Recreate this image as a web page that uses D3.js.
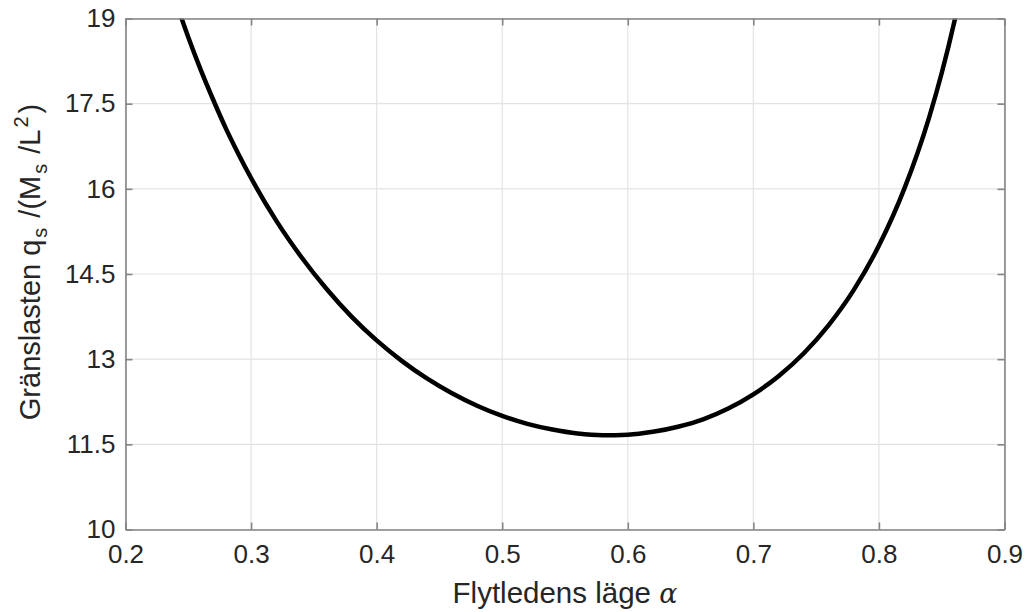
<!DOCTYPE html>
<html><head><meta charset="utf-8">
<script src="https://cdn.jsdelivr.net/npm/d3@7"></script>
<style>body{margin:0;background:#fff;} svg{display:block;}</style>
</head><body>
<script>
// Data
const alpha = [0.24,0.25,0.26,0.27,0.28,0.29,0.30,0.32,0.34,0.36,0.38,0.40,0.42,0.44,0.46,0.48,0.50,0.52,0.54,0.56,0.58,0.60,0.62,0.64,0.66,0.68,0.70,0.72,0.74,0.76,0.78,0.80,0.82,0.84,0.85,0.86,0.87];
const load  = [19.30,18.67,18.09,17.56,17.06,16.61,16.19,15.44,14.80,14.24,13.75,13.33,12.97,12.66,12.40,12.18,12.00,11.86,11.76,11.69,11.66,11.67,11.72,11.81,11.94,12.13,12.38,12.70,13.10,13.60,14.22,15.00,15.99,17.26,18.04,18.94,19.98];
const xTicks = [0.2,0.3,0.4,0.5,0.6,0.7,0.8,0.9];
const yTicks = [10,11.5,13,14.5,16,17.5,19];
const xTickLabels = ["0.2","0.3","0.4","0.5","0.6","0.7","0.8","0.9"];
const yTickLabels = ["10","11.5","13","14.5","16","17.5","19"];

(function(){
const W=1026,H=612;
const m={l:125.5,r:1004.5,t:18.5,b:529.5};
const svg=d3.select("body").append("svg").attr("width",W).attr("height",H);
const x=d3.scaleLinear().domain([0.2,0.9]).range([m.l,m.r]);
const y=d3.scaleLinear().domain([10,19]).range([m.b,m.t]);
const font="'Liberation Sans', Arial, Helvetica, sans-serif";
const axisCol="#848484", textCol="#262626", gridCol="#e3e3e3";

// grid
const g=svg.append("g");
g.selectAll(".gx").data(xTicks).join("line")
 .attr("x1",d=>x(d)).attr("x2",d=>x(d)).attr("y1",m.t).attr("y2",m.b)
 .attr("stroke",gridCol).attr("stroke-width",1.2);
g.selectAll(".gy").data(yTicks).join("line")
 .attr("y1",d=>y(d)).attr("y2",d=>y(d)).attr("x1",m.l).attr("x2",m.r)
 .attr("stroke",gridCol).attr("stroke-width",1.2);

// curve
svg.append("clipPath").attr("id","clip").append("rect")
 .attr("x",m.l).attr("y",m.t).attr("width",m.r-m.l).attr("height",m.b-m.t);
const pts=alpha.map((a,i)=>[a,load[i]]);
svg.append("path").datum(pts).attr("clip-path","url(#clip)")
 .attr("d",d3.line().x(d=>x(d[0])).y(d=>y(d[1])).curve(d3.curveMonotoneX))
 .attr("fill","none").attr("stroke","#000").attr("stroke-width",4.5);

// axes (box with inward ticks)
const ax=svg.append("g");
const axB=d3.axisBottom(x).tickValues(xTicks).tickFormat((d,i)=>xTickLabels[i]).tickSizeInner(-7).tickSizeOuter(0).tickPadding(15);
const axL=d3.axisLeft(y).tickValues(yTicks).tickFormat((d,i)=>yTickLabels[i]).tickSizeInner(-7).tickSizeOuter(0).tickPadding(10);
const axT=d3.axisTop(x).tickValues(xTicks).tickFormat("").tickSizeInner(-7).tickSizeOuter(0);
const axR=d3.axisRight(y).tickValues(yTicks).tickFormat("").tickSizeInner(-7).tickSizeOuter(0);
function style(sel){
  sel.selectAll("path").attr("stroke",axisCol).attr("stroke-width",1.6);
  sel.selectAll("line").attr("stroke",axisCol).attr("stroke-width",1.6);
  sel.selectAll("text").attr("fill",textCol).style("font-family",font).style("font-size","26px");
}
ax.append("g").attr("transform",`translate(0,${m.b})`).call(axB).call(style);
ax.append("g").attr("transform",`translate(${m.l},0)`).call(axL).call(style);
ax.append("g").attr("transform",`translate(0,${m.t})`).call(axT).call(style);
ax.append("g").attr("transform",`translate(${m.r},0)`).call(axR).call(style);

// x label
const xl=svg.append("text").attr("x",(m.l+m.r)/2).attr("y",603).attr("text-anchor","middle")
 .attr("fill",textCol).style("font-family",font).style("font-size","29.5px");
xl.append("tspan").text("Flytledens läge ");
xl.append("tspan").text("α").style("font-family","'DejaVu Serif', 'Liberation Serif', serif").style("font-style","italic").style("font-size","27px");

// y label
const yl=svg.append("text").attr("transform",`translate(40,262) rotate(-90)`).attr("text-anchor","middle")
 .attr("fill",textCol).style("font-family",font).style("font-size","29px");
yl.append("tspan").text("Gränslasten q");
yl.append("tspan").text("s").attr("dx",2).attr("dy",7).style("font-size","20px");
yl.append("tspan").text("/(M").attr("dx",10).attr("dy",-7);
yl.append("tspan").text("s").attr("dx",2).attr("dy",7).style("font-size","20px");
yl.append("tspan").text("/L").attr("dx",10).attr("dy",-7);
yl.append("tspan").text("2").attr("dx",2).attr("dy",-12).style("font-size","20px");
yl.append("tspan").text(")").attr("dx",3).attr("dy",12);
})();
</script>
</body></html>
